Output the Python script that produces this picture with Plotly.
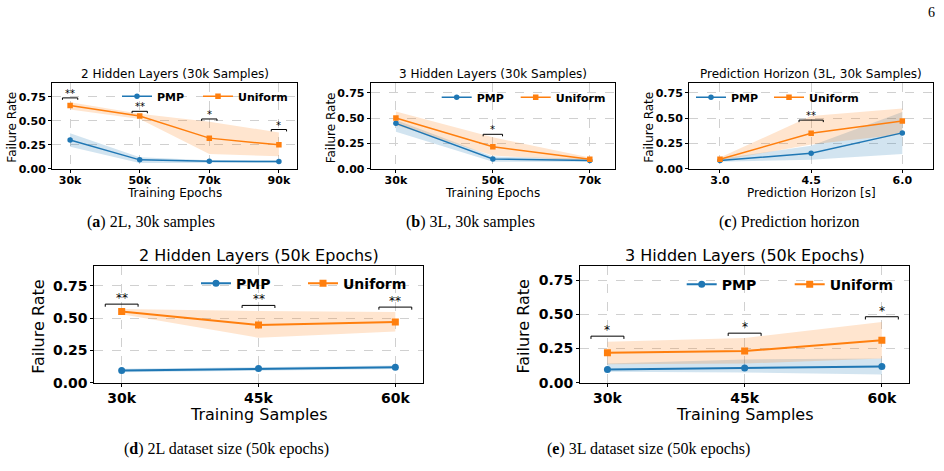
import plotly.graph_objects as go

BLUE = "#1f77b4"
ORANGE = "#ff7f0e"

# ---------------- data ----------------
# (a) 2 hidden layers, 30k samples, vs training epochs
a_labels = ["30k", "50k", "70k", "90k"]
a_pmp = [0.30, 0.093, 0.078, 0.076]
a_pmp_lo = [0.23, 0.06, 0.065, 0.064]
a_pmp_hi = [0.37, 0.12, 0.09, 0.088]
a_uni = [0.66, 0.55, 0.32, 0.25]
a_uni_lo = [0.62, 0.52, 0.155, 0.13]
a_uni_hi = [0.695, 0.575, 0.49, 0.38]
a_sig = ["**", "**", "*", "*"]
a_sig_y = [0.74, 0.60, 0.52, 0.41]

# (b) 3 hidden layers, 30k samples, vs training epochs
b_labels = ["30k", "50k", "70k"]
b_pmp = [0.448, 0.097, 0.082]
b_pmp_lo = [0.365, 0.07, 0.07]
b_pmp_hi = [0.48, 0.12, 0.10]
b_uni = [0.50, 0.218, 0.094]
b_uni_lo = [0.43, 0.13, 0.08]
b_uni_hi = [0.565, 0.31, 0.11]
b_sig = ["", "*", ""]
b_sig_y = [None, 0.34, None]

# (c) prediction horizon (3L, 30k samples)
c_x = [3.0, 4.5, 6.0]
c_labels = ["3.0", "4.5", "6.0"]
c_pmp = [0.082, 0.153, 0.354]
c_pmp_lo = [0.07, 0.09, 0.146]
c_pmp_hi = [0.10, 0.228, 0.56]
c_uni = [0.094, 0.35, 0.47]
c_uni_lo = [0.08, 0.24, 0.34]
c_uni_hi = [0.11, 0.52, 0.594]
c_sig = ["", "**", ""]
c_sig_y = [None, 0.48, None]

# (d) 2 hidden layers, 50k epochs, vs training samples
d_labels = ["30k", "45k", "60k"]
d_pmp = [0.094, 0.109, 0.119]
d_pmp_lo = [0.08, 0.095, 0.105]
d_pmp_hi = [0.108, 0.123, 0.133]
d_uni = [0.55, 0.447, 0.47]
d_uni_lo = [0.53, 0.348, 0.397]
d_uni_hi = [0.57, 0.554, 0.547]
d_sig = ["**", "**", "**"]
d_sig_y = [0.608, 0.598, 0.585]

# (e) 3 hidden layers, 50k epochs, vs training samples
e_labels = ["30k", "45k", "60k"]
e_pmp = [0.096, 0.108, 0.118]
e_pmp_lo = [0.08, 0.075, 0.06]
e_pmp_hi = [0.14, 0.17, 0.176]
e_uni = [0.219, 0.231, 0.311]
e_uni_lo = [0.135, 0.14, 0.176]
e_uni_hi = [0.30, 0.326, 0.443]
e_sig = ["*", "*", "*"]
e_sig_y = [0.34, 0.362, 0.482]

y_ticks = [0.0, 0.25, 0.50, 0.75]

titles = ["2 Hidden Layers (30k Samples)", "3 Hidden Layers (30k Samples)",
          "Prediction Horizon (3L, 30k Samples)", "2 Hidden Layers (50k Epochs)",
          "3 Hidden Layers (50k Epochs)"]
xtitles = ["Training Epochs", "Training Epochs", "Prediction Horizon [s]",
           "Training Samples", "Training Samples"]
captions = ["(<b>a</b>) 2L, 30k samples", "(<b>b</b>) 3L, 30k samples",
            "(<b>c</b>) Prediction horizon", "(<b>d</b>) 2L dataset size (50k epochs)",
            "(<b>e</b>) 3L dataset size (50k epochs)"]

W, H = 944, 471


def px_x(v):
    return v / W


def px_y(v):
    return 1 - v / H


panels = [
    dict(x=list(range(len(a_labels))), labels=a_labels, pmp=a_pmp, pmp_lo=a_pmp_lo, pmp_hi=a_pmp_hi,
         uni=a_uni, uni_lo=a_uni_lo, uni_hi=a_uni_hi, sig=a_sig, sig_y=a_sig_y, bw=0.11,
         xr=[-0.26, 3.26], yr=[0, 0.9], box=(52, 297, 84, 171.7), big=False,
         leg_x=117, leg_y=98, entry=36, cap=(151, 226)),
    dict(x=list(range(len(b_labels))), labels=b_labels, pmp=b_pmp, pmp_lo=b_pmp_lo, pmp_hi=b_pmp_hi,
         uni=b_uni, uni_lo=b_uni_lo, uni_hi=b_uni_hi, sig=b_sig, sig_y=b_sig_y, bw=0.1,
         xr=[-0.26, 2.26], yr=[0, 0.85], box=(370.7, 615, 84, 171.7), big=False,
         leg_x=436.7, leg_y=99, entry=34, cap=(470, 226)),
    dict(x=c_x, labels=c_labels, pmp=c_pmp, pmp_lo=c_pmp_lo, pmp_hi=c_pmp_hi,
         uni=c_uni, uni_lo=c_uni_lo, uni_hi=c_uni_hi, sig=c_sig, sig_y=c_sig_y, bw=0.2,
         xr=[2.49, 6.51], yr=[0, 0.85], box=(689, 933.3, 84, 171.7), big=False,
         leg_x=691, leg_y=99, entry=33, cap=(789, 226)),
    dict(x=list(range(len(d_labels))), labels=d_labels, pmp=d_pmp, pmp_lo=d_pmp_lo, pmp_hi=d_pmp_hi,
         uni=d_uni, uni_lo=d_uni_lo, uni_hi=d_uni_hi, sig=d_sig, sig_y=d_sig_y, bw=0.12,
         xr=[-0.2, 2.2], yr=[0, 0.9], box=(94.3, 422.7, 271, 389.3), big=True,
         leg_x=196, leg_y=288.5, entry=62, cap=(226, 457)),
    dict(x=list(range(len(e_labels))), labels=e_labels, pmp=e_pmp, pmp_lo=e_pmp_lo, pmp_hi=e_pmp_hi,
         uni=e_uni, uni_lo=e_uni_lo, uni_hi=e_uni_hi, sig=e_sig, sig_y=e_sig_y, bw=0.12,
         xr=[-0.2, 2.2], yr=[0, 0.85], box=(580, 909.3, 271, 389.3), big=True,
         leg_x=681.7, leg_y=289.5, entry=63, cap=(648, 457)),
]

fig = go.Figure()
layout = dict(width=W, height=H, margin=dict(l=0, r=0, t=0, b=0),
              paper_bgcolor="white", plot_bgcolor="white", showlegend=True)
annotations = []

for i, p in enumerate(panels, start=1):
    xa = "x" if i == 1 else f"x{i}"
    ya = "y" if i == 1 else f"y{i}"
    leg = "legend" if i == 1 else f"legend{i}"
    big = p["big"]
    lw = 2.0 if big else 1.5
    ms = 7 if big else 5.5
    tick_fs = 14 if big else 11
    lab_fs = 16 if big else 12
    star_fs = 12 if big else 10
    x = p["x"]

    # bands
    for lo, hi, col in ((p["pmp_lo"], p["pmp_hi"], "rgba(31,119,180,0.2)"),
                        (p["uni_lo"], p["uni_hi"], "rgba(255,127,14,0.2)")):
        fig.add_trace(go.Scatter(x=list(x) + list(x)[::-1], y=list(hi) + list(lo)[::-1],
                                 fill="toself", fillcolor=col, line=dict(width=0),
                                 mode="lines", hoverinfo="skip", showlegend=False,
                                 xaxis=xa, yaxis=ya))
    # lines
    fig.add_trace(go.Scatter(x=x, y=p["pmp"], mode="lines+markers", name="PMP",
                             line=dict(color=BLUE, width=lw),
                             marker=dict(symbol="circle", size=ms, color=BLUE),
                             xaxis=xa, yaxis=ya, legend=leg, legendwidth=p["entry"]))
    fig.add_trace(go.Scatter(x=x, y=p["uni"], mode="lines+markers", name="Uniform",
                             line=dict(color=ORANGE, width=lw),
                             marker=dict(symbol="square", size=ms, color=ORANGE),
                             xaxis=xa, yaxis=ya, legend=leg, legendwidth=90 if big else 70))
    # significance brackets
    bx, by = [], []
    for xi, s, sy in zip(x, p["sig"], p["sig_y"]):
        if not s:
            continue
        w = p["bw"]
        bx += [xi - w, xi - w, xi + w, xi + w, None]
        by += [sy - 0.02, sy, sy, sy - 0.02, None]
        annotations.append(dict(x=xi, y=sy, xref=xa, yref=ya, text=s, showarrow=False,
                                xanchor="center", yanchor="bottom", yshift=-3,
                                font=dict(family="DejaVu Sans", size=star_fs, color="black")))
    fig.add_trace(go.Scatter(x=bx, y=by, mode="lines", line=dict(color="black", width=1),
                             hoverinfo="skip", showlegend=False, xaxis=xa, yaxis=ya))

    l, r, t, b = p["box"]
    axis_common = dict(showline=True, mirror=True, linecolor="black", linewidth=1,
                       ticks="outside", ticklen=3, tickcolor="black", tickwidth=1,
                       showgrid=True, gridcolor="#d0d0d0", griddash="dash", gridwidth=0.8,
                       zeroline=False,
                       tickfont=dict(family="DejaVu Sans", size=tick_fs, color="black",
                                     weight="bold"))
    layout["xaxis" if i == 1 else f"xaxis{i}"] = dict(
        domain=[px_x(l), px_x(r)], range=p["xr"], tickmode="array", tickvals=x,
        ticktext=p["labels"], anchor=ya, ticklabelstandoff=-2 if not big else 0,
        **axis_common)
    layout["yaxis" if i == 1 else f"yaxis{i}"] = dict(
        domain=[px_y(b), px_y(t)], range=p["yr"], tickmode="array", tickvals=y_ticks,
        ticktext=[f"{v:.2f}" for v in y_ticks], anchor=xa, **axis_common)

    layout[leg] = dict(orientation="h", x=px_x(p["leg_x"]), y=px_y(p["leg_y"]),
                       xanchor="left", yanchor="middle", bgcolor="rgba(0,0,0,0)",
                       borderwidth=0,
                       font=dict(family="DejaVu Sans", size=tick_fs, color="black",
                                 weight="bold"))

    cx = (l + r) / 2
    # title
    annotations.append(dict(x=px_x(cx), y=px_y(t - (9 if not big else 11)), xref="paper",
                            yref="paper", text=titles[i - 1], showarrow=False,
                            xanchor="center", yanchor="middle",
                            font=dict(family="DejaVu Sans", size=lab_fs, color="black")))
    # x label
    annotations.append(dict(x=px_x(cx), y=px_y(b + (24.5 if not big else 32)), xref="paper",
                            yref="paper", text=xtitles[i - 1], showarrow=False,
                            xanchor="center", yanchor="middle",
                            font=dict(family="DejaVu Sans", size=lab_fs, color="black")))
    # y label
    annotations.append(dict(x=px_x(l - (40 if not big else 56)), y=px_y((t + b) / 2 + 2),
                            xref="paper", yref="paper", text="Failure Rate", showarrow=False,
                            textangle=-90, xanchor="center", yanchor="middle",
                            font=dict(family="DejaVu Sans", size=lab_fs, color="black")))
    # caption
    annotations.append(dict(x=px_x(p["cap"][0]), y=px_y(p["cap"][1]), xref="paper",
                            yref="paper", text=captions[i - 1], showarrow=False,
                            xanchor="center", yanchor="middle",
                            font=dict(family="Liberation Serif", size=16, color="black")))

# page number
annotations.append(dict(x=px_x(931), y=px_y(13), xref="paper", yref="paper", text="6",
                        showarrow=False, xanchor="center", yanchor="middle",
                        font=dict(family="Liberation Serif", size=14, color="black")))

layout["annotations"] = annotations
fig.update_layout(**layout)
fig.write_html("out.html")
